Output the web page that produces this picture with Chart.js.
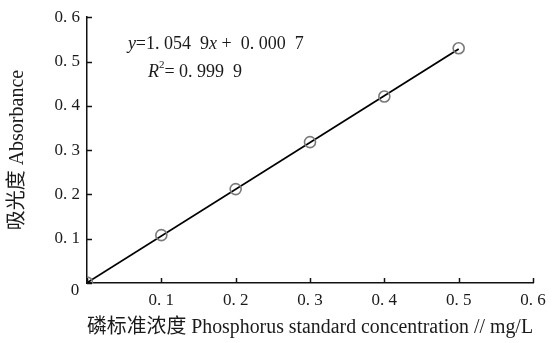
<!DOCTYPE html>
<html>
<head>
<meta charset="utf-8">
<script src="https://cdn.jsdelivr.net/npm/chart.js@4"></script>
<style>
  html, body { margin: 0; padding: 0; background: #fff; }
  #wrap { width: 553px; height: 343px; }
</style>
</head>
<body>
<div id="wrap"><canvas id="chart"></canvas></div>
<script>
const concentrations = [0, 0.1, 0.2, 0.3, 0.4, 0.5];
const absorbance = [0.001, 0.108, 0.212, 0.318, 0.421, 0.530];

// fitted line y = 1.0549x + 0.0007, drawn between its two end points
const fitX = [0, 0.5];
const fitY = [0.0007, 0.5282];

const axisMin = 0;
const axisMax = 0.6;
const axisStep = 0.1;

const SERIF = "'Liberation Serif', 'Noto Sans CJK SC', serif";

function fmt(v) {
  // journal style "0. 3"
  return v.toFixed(1).replace('.', '. ');
}

// draw small ticks pointing into the plot, plus the lone "0" at the origin
const innerTicks = {
  id: 'innerTicks',
  afterDraw(chart) {
    const ctx = chart.ctx;
    const xs = chart.scales.x, ys = chart.scales.y;
    const area = chart.chartArea;
    ctx.save();
    ctx.strokeStyle = '#111';
    ctx.lineWidth = 1.5;
    ys.ticks.forEach(t => {
      const py = Math.round(ys.getPixelForValue(t.value)) + 0.5;
      ctx.beginPath();
      ctx.moveTo(area.left, py);
      ctx.lineTo(area.left + 5, py);
      ctx.stroke();
    });
    xs.ticks.forEach(t => {
      const px = Math.round(xs.getPixelForValue(t.value)) + 0.5;
      ctx.beginPath();
      ctx.moveTo(px, area.bottom);
      ctx.lineTo(px, area.bottom - 5);
      ctx.stroke();
    });
    ctx.fillStyle = '#1a1a1a';
    ctx.font = '17px ' + SERIF;
    ctx.textAlign = 'center';
    ctx.textBaseline = 'middle';
    ctx.fillText('0', xs.getPixelForValue(0) - 12, ys.getPixelForValue(0) + 8);
    ctx.restore();
  }
};

// regression text, pieces drawn one after another (italic y, x, R)
function drawRuns(ctx, x, y, runs) {
  runs.forEach(r => {
    const size = r.sup ? 11 : 18;
    ctx.font = (r.italic ? 'italic ' : '') + size + 'px ' + SERIF;
    ctx.fillText(r.t, x, r.sup ? y - 7 : y);
    x += ctx.measureText(r.t).width;
  });
}

const equation = {
  id: 'equation',
  afterDraw(chart) {
    const ctx = chart.ctx;
    const xs = chart.scales.x, ys = chart.scales.y;
    ctx.save();
    ctx.fillStyle = '#1a1a1a';
    ctx.textAlign = 'left';
    ctx.textBaseline = 'middle';
    drawRuns(ctx, xs.getPixelForValue(0.055), ys.getPixelForValue(0.539), [
      { t: 'y', italic: true },
      { t: '=1. 054  9' },
      { t: 'x', italic: true },
      { t: ' +  0. 000  7' }
    ]);
    drawRuns(ctx, xs.getPixelForValue(0.082), ys.getPixelForValue(0.476), [
      { t: 'R', italic: true },
      { t: '2', sup: true },
      { t: '= 0. 999  9' }
    ]);
    ctx.restore();
  }
};

new Chart(document.getElementById('chart'), {
  type: 'scatter',
  data: {
    datasets: [
      {
        label: 'standards',
        data: concentrations.map((c, i) => ({ x: c, y: absorbance[i] })),
        pointRadius: 5.5,
        pointHoverRadius: 5.5,
        pointBorderWidth: 1.6,
        pointBorderColor: '#7a7a7a',
        pointBackgroundColor: 'rgba(0,0,0,0)'
      },
      {
        label: 'fit',
        data: fitX.map((c, i) => ({ x: c, y: fitY[i] })),
        showLine: true,
        borderColor: '#000',
        borderWidth: 1.8,
        pointRadius: 0
      }
    ]
  },
  options: {
    responsive: true,
    maintainAspectRatio: false,
    animation: false,
    layout: { padding: { left: 0, right: 20, top: 16, bottom: 0 } },
    plugins: {
      legend: { display: false },
      tooltip: { enabled: false }
    },
    scales: {
      x: {
        type: 'linear',
        min: axisMin,
        max: axisMax,
        afterFit: s => { s.height = 60; },
        ticks: {
          stepSize: axisStep,
          padding: 7,
          color: '#1a1a1a',
          font: { family: SERIF, size: 17 },
          callback: v => (v === 0 ? '' : fmt(v))
        },
        grid: { drawOnChartArea: false, drawTicks: false },
        border: { color: '#111', width: 1.5 },
        title: {
          display: true,
          text: '磷标准浓度 Phosphorus standard concentration // mg/L',
          color: '#1a1a1a',
          font: { family: SERIF, size: 20 },
          padding: { top: 0, bottom: 3 }
        }
      },
      y: {
        type: 'linear',
        min: axisMin,
        max: axisMax,
        afterFit: s => { s.width = 87; },
        ticks: {
          stepSize: axisStep,
          padding: 7,
          color: '#1a1a1a',
          font: { family: SERIF, size: 17 },
          callback: v => (v === 0 ? '' : fmt(v))
        },
        grid: { drawOnChartArea: false, drawTicks: false },
        border: { color: '#111', width: 1.5 },
        title: {
          display: true,
          text: '吸光度 Absorbance',
          color: '#1a1a1a',
          font: { family: SERIF, size: 20 },
          padding: { top: 6, bottom: 0 }
        }
      }
    }
  },
  plugins: [innerTicks, equation]
});
</script>
</body>
</html>
